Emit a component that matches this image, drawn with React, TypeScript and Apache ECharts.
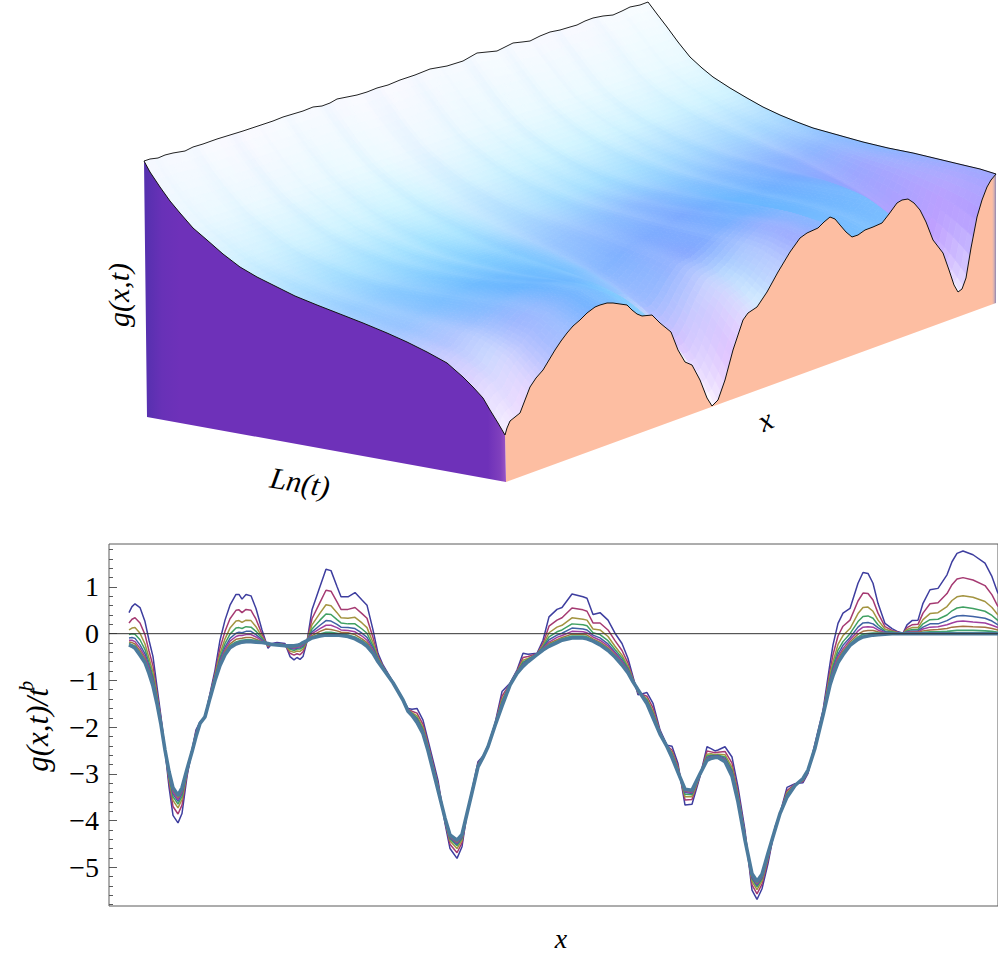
import React, { useEffect, useRef } from "react";
import * as echarts from "echarts";

// ---- lower panel: g(x,t)/t^b against x ----
const xs = [
20,23,26,31,36,40,44,48,52,56,
60,64,69,73,78,83,87,91,96,101,
106,111,116,121,127,130,133,137,142,147,
153,159,163,168,176,181,185,188,191,194,
198,203,211,217,222,228,232,239,246,253,
258,264,269,274,284,294,299,303,308,314,
319,329,336,341,348,353,358,363,369,374,
379,386,393,401,408,414,419,428,434,440,
448,453,463,474,478,484,491,499,506,513,
519,524,529,538,544,551,558,563,569,576,
583,591,598,602,606,609,616,623,629,636,
643,648,653,659,666,671,678,686,694,699,
706,714,721,724,729,734,741,749,754,759,
764,769,776,783,789,794,798,803,809,814,
821,829,838,843,848,854,864,876,883,889];
const curve0 = [
.45,.58,.64,.56,.26,-.14,-.49,-1.14,-1.78,-2.49,
-3.28,-3.89,-4.05,-3.85,-3.06,-2.49,-2.06,-1.89,-1.78,-1.28,
-.78,-.14,.29,.61,.84,.84,.74,.84,.81,.54,
.08,-.31,-.21,-.19,-.21,-.49,-.56,-.51,-.55,-.49,
-.17,.51,1.01,1.38,1.35,1.01,.79,.79,.88,.72,
.61,.08,-.42,-.67,-1.03,-1.40,-1.6,-1.62,-1.6,-1.85,
-2.28,-3.14,-4.06,-4.6,-4.81,-4.56,-3.85,-3.35,-2.74,-2.62,
-2.40,-1.92,-1.24,-1.06,-.78,-.42,-.44,-.42,-.14,.36,
.52,.56,.85,.79,.76,.41,.45,.29,.01,-.21,
-.53,-.92,-1.31,-1.26,-1.49,-2.06,-2.39,-2.41,-2.78,-3.67,
-3.65,-3.06,-2.42,-2.46,-2.51,-2.49,-2.42,-2.64,-3.28,-4.21,
-5.49,-5.69,-5.46,-4.92,-4.14,-3.85,-3.29,-3.21,-3.19,-2.99,
-2.35,-1.64,-.64,-.24,.22,.44,.54,1.08,1.31,1.29,
1.08,.65,.22,.11,.04,.01,.19,.28,.29,.65,
.94,.97,1.26,1.54,1.72,1.77,1.69,1.51,1.22,.86];
const curve1 = [
.23,.31,.34,.23,-.02,-.37,-.69,-1.26,-1.83,-2.49,
-3.17,-3.70,-3.86,-3.67,-3.01,-2.50,-2.10,-1.90,-1.78,-1.31,
-.85,-.31,.05,.32,.50,.51,.45,.52,.50,.31,
-.01,-.28,-.22,-.21,-.23,-.42,-.46,-.43,-.45,-.39,
-.16,.32,.67,.93,.91,.68,.52,.52,.56,.43,
.33,-.08,-.48,-.70,-1.04,-1.41,-1.62,-1.66,-1.70,-1.94,
-2.35,-3.21,-4.02,-4.51,-4.69,-4.48,-3.85,-3.37,-2.78,-2.63,
-2.41,-1.94,-1.34,-1.07,-.80,-.51,-.49,-.43,-.21,.16,
.29,.34,.55,.51,.48,.23,.23,.08,-.15,-.36,
-.63,-.96,-1.27,-1.34,-1.59,-2.09,-2.40,-2.49,-2.84,-3.56,
-3.55,-3.04,-2.51,-2.53,-2.55,-2.54,-2.52,-2.77,-3.38,-4.28,
-5.38,-5.57,-5.36,-4.85,-4.16,-3.85,-3.36,-3.22,-3.16,-2.97,
-2.38,-1.68,-.79,-.45,-.05,.16,.29,.70,.87,.86,
.72,.44,.15,.07,.03,.01,.13,.19,.20,.44,
.64,.66,.86,1.05,1.17,1.20,1.15,1.03,.83,.58];
const curve2 = [
.08,.12,.13,.01,-.22,-.52,-.83,-1.33,-1.87,-2.49,
-3.10,-3.57,-3.73,-3.55,-2.97,-2.51,-2.14,-1.91,-1.78,-1.33,
-.90,-.43,-.11,.12,.27,.28,.24,.29,.28,.15,
-.07,-.26,-.22,-.22,-.24,-.37,-.40,-.37,-.38,-.33,
-.16,.19,.44,.62,.60,.45,.34,.33,.35,.23,
.13,-.19,-.52,-.71,-1.04,-1.41,-1.63,-1.69,-1.76,-2.01,
-2.40,-3.25,-4.0,-4.44,-4.60,-4.42,-3.85,-3.38,-2.80,-2.64,
-2.41,-1.95,-1.41,-1.08,-.82,-.57,-.53,-.44,-.25,.02,
.14,.18,.34,.31,.29,.10,.08,-.06,-.27,-.46,
-.70,-.98,-1.25,-1.39,-1.66,-2.11,-2.41,-2.54,-2.88,-3.49,
-3.49,-3.03,-2.58,-2.57,-2.59,-2.58,-2.59,-2.86,-3.45,-4.32,
-5.30,-5.48,-5.29,-4.80,-4.17,-3.85,-3.40,-3.23,-3.14,-2.95,
-2.40,-1.70,-.89,-.60,-.23,-.04,.11,.43,.56,.57,
.48,.29,.10,.05,.02,0,.09,.13,.13,.30,
.43,.45,.58,.71,.79,.81,.78,.69,.56,.40];
const curve3 = [
-.02,0,-.01,-.13,-.34,-.62,-.92,-1.38,-1.90,-2.49,
-3.06,-3.49,-3.65,-3.48,-2.95,-2.52,-2.16,-1.91,-1.78,-1.35,
-.93,-.51,-.21,-.01,.12,.13,.11,.15,.14,.05,
-.10,-.24,-.22,-.22,-.24,-.33,-.36,-.33,-.33,-.29,
-.16,.10,.29,.42,.41,.30,.23,.21,.21,.10,
.01,-.26,-.54,-.72,-1.04,-1.41,-1.64,-1.71,-1.80,-2.05,
-2.43,-3.28,-3.99,-4.40,-4.54,-4.38,-3.85,-3.38,-2.81,-2.64,
-2.41,-1.95,-1.45,-1.09,-.83,-.61,-.55,-.44,-.28,-.07,
.04,.08,.21,.19,.17,.02,-.02,-.15,-.34,-.52,
-.74,-.99,-1.24,-1.42,-1.70,-2.12,-2.41,-2.57,-2.91,-3.44,
-3.45,-3.02,-2.62,-2.60,-2.61,-2.60,-2.64,-2.92,-3.50,-4.35,
-5.25,-5.42,-5.25,-4.77,-4.18,-3.85,-3.43,-3.24,-3.13,-2.94,
-2.42,-1.71,-.95,-.69,-.35,-.17,0,.26,.37,.38,
.33,.19,.06,.04,.01,0,.06,.09,.09,.21,
.30,.31,.40,.49,.55,.57,.54,.48,.39,.28];
const curve4 = [
-.09,-.08,-.10,-.24,-.43,-.69,-.98,-1.42,-1.91,-2.49,
-3.02,-3.43,-3.59,-3.42,-2.94,-2.52,-2.17,-1.91,-1.78,-1.36,
-.95,-.56,-.29,-.10,.01,.03,.02,.05,.05,-.02,
-.13,-.23,-.23,-.23,-.25,-.31,-.33,-.31,-.30,-.26,
-.15,.04,.18,.28,.27,.20,.14,.13,.11,.01,
-.08,-.31,-.56,-.73,-1.05,-1.42,-1.65,-1.72,-1.83,-2.08,
-2.45,-3.30,-3.97,-4.37,-4.51,-4.36,-3.85,-3.39,-2.83,-2.64,
-2.42,-1.96,-1.48,-1.09,-.83,-.64,-.56,-.44,-.30,-.13,
-.03,.01,.12,.10,.08,-.03,-.09,-.22,-.39,-.57,
-.77,-1.01,-1.22,-1.45,-1.73,-2.13,-2.41,-2.60,-2.93,-3.40,
-3.42,-3.01,-2.65,-2.62,-2.62,-2.61,-2.67,-2.96,-3.53,-4.37,
-5.22,-5.39,-5.22,-4.75,-4.19,-3.85,-3.45,-3.24,-3.12,-2.94,
-2.43,-1.73,-1.0,-.75,-.44,-.25,-.08,.14,.23,.24,
.21,.13,.04,.02,.01,0,.04,.06,.06,.14,
.21,.21,.28,.34,.38,.39,.37,.33,.27,.19];
const curve5 = [
-.14,-.14,-.17,-.31,-.49,-.74,-1.03,-1.45,-1.92,-2.49,
-3.0,-3.39,-3.55,-3.38,-2.92,-2.52,-2.18,-1.92,-1.78,-1.37,
-.97,-.60,-.34,-.16,-.06,-.04,-.04,-.02,-.02,-.07,
-.15,-.23,-.23,-.23,-.25,-.29,-.31,-.29,-.28,-.24,
-.15,0,.11,.18,.18,.13,.08,.07,.04,-.05,
-.14,-.35,-.57,-.74,-1.05,-1.42,-1.65,-1.73,-1.86,-2.10,
-2.47,-3.32,-3.97,-4.35,-4.48,-4.34,-3.85,-3.39,-2.83,-2.65,
-2.42,-1.96,-1.50,-1.09,-.84,-.66,-.58,-.45,-.32,-.18,
-.08,-.04,.05,.04,.02,-.07,-.14,-.26,-.42,-.60,
-.79,-1.01,-1.22,-1.46,-1.75,-2.14,-2.42,-2.61,-2.94,-3.38,
-3.40,-3.01,-2.67,-2.64,-2.63,-2.63,-2.69,-2.99,-3.55,-4.39,
-5.19,-5.36,-5.20,-4.73,-4.19,-3.85,-3.47,-3.24,-3.11,-2.93,
-2.44,-1.73,-1.03,-.80,-.49,-.32,-.13,.06,.14,.15,
.14,.08,.02,.02,.01,0,.03,.04,.04,.10,
.14,.15,.19,.23,.26,.27,.25,.23,.18,.13];
const curve6 = [
-.18,-.19,-.22,-.37,-.54,-.79,-1.06,-1.47,-1.93,-2.49,
-2.98,-3.35,-3.51,-3.35,-2.91,-2.53,-2.19,-1.92,-1.78,-1.37,
-.98,-.63,-.38,-.22,-.12,-.11,-.10,-.08,-.08,-.12,
-.17,-.22,-.23,-.24,-.26,-.28,-.29,-.27,-.26,-.22,
-.15,-.04,.05,.10,.09,.06,.03,.02,-.02,-.11,
-.19,-.38,-.58,-.74,-1.05,-1.42,-1.65,-1.74,-1.87,-2.11,
-2.48,-3.33,-3.96,-4.34,-4.46,-4.32,-3.85,-3.40,-2.84,-2.65,
-2.42,-1.97,-1.52,-1.10,-.84,-.67,-.59,-.45,-.33,-.21,
-.13,-.08,-.01,-.01,-.03,-.11,-.18,-.30,-.45,-.63,
-.81,-1.02,-1.21,-1.48,-1.77,-2.14,-2.42,-2.63,-2.95,-3.36,
-3.38,-3.01,-2.68,-2.65,-2.64,-2.64,-2.71,-3.01,-3.57,-4.40,
-5.17,-5.34,-5.18,-4.72,-4.19,-3.85,-3.48,-3.25,-3.11,-2.93,
-2.44,-1.74,-1.06,-.84,-.54,-.37,-.18,-.01,.05,.07,
.07,.04,.01,.01,0,0,.02,.03,.03,.06,
.08,.09,.11,.14,.15,.16,.15,.14,.11,.08];
const curve7 = [
-.21,-.24,-.27,-.42,-.58,-.82,-1.09,-1.49,-1.94,-2.49,
-2.96,-3.32,-3.48,-3.32,-2.91,-2.53,-2.19,-1.92,-1.78,-1.38,
-.99,-.66,-.42,-.26,-.18,-.16,-.14,-.13,-.13,-.15,
-.18,-.21,-.23,-.24,-.26,-.27,-.27,-.26,-.24,-.20,
-.15,-.07,-.01,.03,.03,.01,-.01,-.03,-.07,-.15,
-.23,-.40,-.59,-.75,-1.05,-1.42,-1.66,-1.74,-1.89,-2.13,
-2.49,-3.34,-3.95,-4.32,-4.44,-4.31,-3.85,-3.40,-2.85,-2.65,
-2.42,-1.97,-1.54,-1.10,-.85,-.69,-.59,-.45,-.34,-.24,
-.16,-.11,-.05,-.05,-.07,-.14,-.21,-.33,-.48,-.65,
-.83,-1.03,-1.20,-1.49,-1.79,-2.15,-2.42,-2.64,-2.96,-3.34,
-3.36,-3.0,-2.70,-2.66,-2.64,-2.64,-2.73,-3.03,-3.59,-4.41,
-5.15,-5.32,-5.16,-4.71,-4.20,-3.85,-3.49,-3.25,-3.10,-2.92,
-2.45,-1.75,-1.08,-.87,-.59,-.41,-.22,-.07,-.01,0,
.01,.01,0,0,0,0,.01,.01,.01,.03,
.04,.04,.05,.06,.07,.07,.07,.06,.05,.03];
const curve8 = [
-.24,-.27,-.31,-.46,-.62,-.85,-1.12,-1.5,-1.95,-2.49,
-2.95,-3.3,-3.46,-3.3,-2.9,-2.53,-2.2,-1.92,-1.78,-1.38,
-1.0,-.68,-.45,-.3,-.22,-.2,-.18,-.17,-.17,-.18,
-.19,-.21,-.23,-.24,-.26,-.26,-.26,-.25,-.23,-.19,
-.15,-.09,-.05,-.03,-.03,-.03,-.04,-.06,-.11,-.19,
-.27,-.42,-.6,-.75,-1.05,-1.42,-1.66,-1.75,-1.9,-2.14,
-2.5,-3.35,-3.95,-4.31,-4.42,-4.3,-3.85,-3.4,-2.85,-2.65,
-2.42,-1.97,-1.55,-1.1,-.85,-.7,-.6,-.45,-.35,-.27,
-.19,-.14,-.09,-.09,-.11,-.16,-.24,-.36,-.5,-.67,
-.84,-1.03,-1.2,-1.5,-1.8,-2.15,-2.42,-2.65,-2.97,-3.33,
-3.35,-3.0,-2.71,-2.67,-2.65,-2.65,-2.74,-3.05,-3.6,-4.42,
-5.14,-5.3,-5.15,-4.7,-4.2,-3.85,-3.5,-3.25,-3.1,-2.92,
-2.45,-1.75,-1.1,-.9,-.62,-.45,-.25,-.12,-.07,-.05,
-.03,-.02,-.01,0,0,0,0,0,0,0,
0,0,0,0,0,0,0,0,0,0];
const curves = [curve0, curve1, curve2, curve3, curve4, curve5, curve6, curve7, curve8];
const curveColors = ["#3e3e9f", "#a53a72", "#a39440", "#3fa062", "#3f62a4", "#a03fa0", "#a47242", "#42a272", "#4c7b9d"];
const curveWidths = [1.5, 1.5, 1.5, 1.5, 1.5, 1.5, 1.5, 1.7, 3.6];
const majorTicks = [-5, -4, -3, -2, -1, 0, 1];
const minorTicks = [-5.8,-5.6,-5.4,-5.2,-4.8,-4.6,-4.4,-4.2,-3.8,-3.6,-3.4,-3.2,-2.8,-2.6,-2.4,-2.2,-1.8,-1.6,-1.4,-1.2,-0.8,-0.6,-0.4,-0.2,0.2,0.4,0.6,0.8,1.2,1.4,1.6,1.8];

// ---- upper panel: edges of the projected surface ----
const frontEdge = [[505,435],[507,428],[510,421],[515,417],[520,413],[525,400],[530,387],[536,378],[543,370],[549,360],[555,350],[561,341],[567,333],[573,326],[580,320],[587,313],[595,307],[600,305],[607,303],[613,303],[620,304],[627,305],[632,310],[637,314],[642,316],[652,315],[660,323],[671,332],[678,350],[685,362],[692,365],[700,380],[707,398],[712,406],[718,400],[725,380],[733,350],[743,320],[748,313],[757,307],[767,292],[778,272],[790,252],[800,238],[807,233],[818,228],[824,222],[830,217],[835,219],[840,225],[846,232],[852,237],[858,235],[865,230],[873,227],[882,223],[889,214],[897,203],[902,200],[908,199],[914,203],[920,210],[926,222],[933,240],[943,253],[949,270],[954,285],[958,292],[962,289],[966,278],[971,248],[977,217],[982,200],[987,187],[991,180],[996,174]];
const backEdge = [[144,161],[150,159],[158,158],[165,155],[173,153],[185,151],[193,147],[203,144],[217,139],[230,135],[243,131],[258,126],[273,121],[283,117],[293,114],[303,111],[313,107],[322,106],[330,103],[337,99],[347,97],[357,95],[367,92],[377,88],[388,85],[400,80],[415,75],[430,69],[447,66],[463,61],[470,57],[477,53],[487,52],[497,51],[505,47],[513,43],[522,42],[530,41],[540,36],[550,32],[560,30],[570,27],[577,25],[585,21],[593,18],[603,16],[613,15],[622,11],[630,7],[640,5],[648,2]];
const leftEdge = [[144,161],[150,172],[160,187],[170,201],[180,213],[193,228],[207,240],[223,254],[240,267],[257,277],[273,285],[295,296],[317,305],[340,314],[363,323],[387,333],[407,342],[427,352],[447,363],[463,377],[473,387],[483,398],[490,410],[498,423],[505,435]];
const rightEdge = [[648,2],[657,14],[667,27],[678,42],[690,57],[702,68],[713,77],[730,88],[747,98],[763,107],[780,115],[797,122],[813,128],[838,135],[863,142],[888,148],[913,153],[938,159],[963,165],[980,169],[996,174]];
const wallBase = [[506,482],[147,417]];
const frontBase = [[996,303],[506,482]];

const colorU = [0,.04,.1,.18,.28,.34,.39,.42,.46,.52,.6,.7,.8,.87,.92,.96,1];
const colorV = [0,.12,.25,.4,.55,.68,.8,.9,1];
const colorRows = [
["#f6f8ff","#f6f9ff","#f8faff","#fbf9ff","#f8fbff","#f7faff","#f8f9ff","#fafaff","#fbfaff","#f8f9ff","#f6faff","#f8fbff","#f8f9ff","#f9f9ff","#f8fbff","#f8fcff","#f8fcff"],
["#eaf7ff","#eaf8ff","#ebf9ff","#ecf9ff","#eaf9ff","#ebfaff","#ecfaff","#eef9ff","#eef8ff","#ecf9ff","#eaf9ff","#ebfaff","#ebfaff","#ebfaff","#eafaff","#eafaff","#eafaff"],
["#d2f1ff","#d0f1ff","#d0f2ff","#d0f3ff","#cef3ff","#cef4ff","#d0f3ff","#d4f2ff","#d4f2ff","#d0f3ff","#cef3ff","#d0f4ff","#d0f3ff","#d0f3ff","#d0f3ff","#d0f3ff","#d0f3ff"],
["#b0e0ff","#aee0ff","#aae1ff","#a8e2ff","#a6e3ff","#a8e4ff","#b0e2ff","#b6e0ff","#b4dfff","#ace0ff","#a8e0ff","#a6deff","#a8daff","#a8d8ff","#a8d8ff","#a8d8ff","#a8d8ff"],
["#9ccdff","#96ccff","#8ccbff","#88ceff","#84ceff","#86cdff","#90caff","#98c6ff","#98c2ff","#90c0ff","#8cbaff","#84c2ff","#88bcff","#8cb6ff","#90b2ff","#90b8ff","#8ebeff"],
["#a0c6ff","#96c4ff","#80c0ff","#70bcff","#72beff","#78c2ff","#82c2ff","#8cbaff","#84b2ff","#80acff","#7caaff","#6cb8ff","#74aeff","#8ca8ff","#98a4ff","#a0a8ff","#8cb8ff"],
["#c0c8ff","#b0c4ff","#8cbcff","#6cb6ff","#70b8ff","#88c4ff","#9cc4ff","#a0bcff","#98b8ff","#88a8ff","#78b0ff","#6cb8ff","#74b4ff","#94a8ff","#ac9cff","#aca4ff","#98b0ff"],
["#dcd0ff","#ccd8ff","#a4b8ff","#76b6ff","#80c8ff","#b0dcf8","#d8d0ff","#d8c0ff","#d0ccff","#b8d8ff","#98b0ff","#78bcff","#74b8ff","#a0a8ff","#c8a0ff","#b8a0ff","#a0acff"],
["#f4eeff","#ecd8ff","#b0c0ff","#78b4ff","#84ccff","#e8f4e8","#fff8ff","#ffffff","#e8c4ff","#d4ecff","#a0acff","#78c0ff","#7cbcff","#b0a4ff","#ffffff","#b49cff","#a0a8ff"],
];
const streaks = [.1,-.05,.14,0,-.09,.12,.04,-.12,.1,-.04,.16,-.08,.02,.12,-.12,.06,.16,-.06,-.12,.1,.03,-.1,.14,-.03,.08,-.12,.12,.02,-.1,.15,-.05,.08,-.1,.12,0,-.08,.14,-.04,.08,-.06];

const PEACH = "#fdbea2";
const NU = 150;
const NV = 64;

const hexRgb = (h: string) => [parseInt(h.slice(1, 3), 16), parseInt(h.slice(3, 5), 16), parseInt(h.slice(5, 7), 16)];
const rows = colorRows.map((r) => r.map(hexRgb));

function along(edge: number[][], t: number) {
  const x0 = edge[0][0];
  const x = x0 + (edge[edge.length - 1][0] - x0) * t;
  let i = 0;
  while (i < edge.length - 2 && edge[i + 1][0] < x) i++;
  const a = edge[i], b = edge[i + 1];
  const f = (x - a[0]) / (b[0] - a[0]);
  return [a[0] + (b[0] - a[0]) * f, a[1] + (b[1] - a[1]) * f];
}

function patch(u: number, v: number) {
  const w = v * v * v * v;
  const w0 = Math.min(1, v * 6);
  const F = along(frontEdge, u), B = along(backEdge, u), L = along(leftEdge, v), R = along(rightEdge, v);
  const P00 = backEdge[0], P10 = backEdge[backEdge.length - 1], P01 = frontEdge[0], P11 = frontEdge[frontEdge.length - 1];
  return [0, 1].map((k) => {
    const straightBack = P00[k] + (P10[k] - P00[k]) * u;
    const back = B[k] * (1 - w0) + straightBack * w0;
    return (1 - w) * back + w * F[k] +
      (1 - u) * (L[k] - ((1 - w) * P00[k] + w * P01[k])) +
      u * (R[k] - ((1 - w) * P10[k] + w * P11[k]));
  });
}

function bracket(list: number[], t: number) {
  let i = 0;
  while (i < list.length - 2 && list[i + 1] < t) i++;
  return [i, (t - list[i]) / (list[i + 1] - list[i])];
}

function shade(u: number, v: number) {
  const [ci, cf] = bracket(colorU, u);
  const [ri, rf] = bracket(colorV, v);
  const c = [0, 1, 2].map((k) => {
    const top = rows[ri][ci][k] * (1 - cf) + rows[ri][ci + 1][k] * cf;
    const bot = rows[ri + 1][ci][k] * (1 - cf) + rows[ri + 1][ci + 1][k] * cf;
    return top * (1 - rf) + bot * rf;
  });
  const sp = u * (streaks.length - 1);
  const si = Math.min(streaks.length - 2, Math.floor(sp));
  const s = (streaks[si] * (si + 1 - sp) + streaks[si + 1] * (sp - si)) * (0.35 + 0.65 * Math.min(1, v * 2.2)) * (1 - 0.6 * v);
  const target = s > 0 ? [255, 255, 255] : [90, 176, 255];
  const a = Math.abs(s);
  const out = c.map((val, k) => Math.round(val * (1 - a) + target[k] * a));
  return `rgb(${out[0]},${out[1]},${out[2]})`;
}

const meshCells: number[][] = [];
for (let i = 0; i < NU; i++) for (let j = 0; j < NV; j++) meshCells.push([i, j]);

const polygonSeries = (points: number[][], fill: any) => ({
  type: "custom",
  xAxisIndex: 1,
  yAxisIndex: 2,
  clip: false,
  silent: true,
  data: points,
  renderItem: (params: any, api: any) => {
    if (params.dataIndex !== 0) return null;
    return {
      type: "polygon",
      shape: { points: points.map((p) => api.coord(p)) },
      style: { fill },
    };
  },
});

const edgeSeries = (points: number[][], color: string, width: number) => ({
  type: "line",
  xAxisIndex: 1,
  yAxisIndex: 2,
  data: points,
  showSymbol: false,
  silent: true,
  clip: false,
  lineStyle: { color, width },
});

const serif = '"Liberation Serif", "Times New Roman", serif';
const italicLabel = (text: string, x: number, y: number, rotation: number, size: number) => ({
  type: "text",
  x,
  y,
  rotation,
  silent: true,
  style: { text, fill: "#000", font: `italic ${size}px ${serif}`, textAlign: "center", textVerticalAlign: "middle" },
});

export default function App() {
  const ref = useRef<HTMLDivElement>(null);
  useEffect(() => {
    const chart = echarts.init(ref.current!, null, { renderer: "svg" });
    chart.setOption({
      animation: false,
      backgroundColor: "#fff",
      textStyle: { fontFamily: serif },
      grid: [
        { left: 109, top: 544, width: 889, height: 362, show: true, borderColor: "#5a5a5a", borderWidth: 1, backgroundColor: "transparent" },
        { left: 0, top: 0, width: 998, height: 500, show: false },
      ],
      xAxis: [
        { type: "value", gridIndex: 0, min: 0, max: 889, axisLine: { show: false }, axisTick: { show: false }, axisLabel: { show: false }, splitLine: { show: false } },
        { type: "value", gridIndex: 1, min: 0, max: 998, show: false },
      ],
      yAxis: [
        {
          type: "value", gridIndex: 0, min: -5.83, max: 1.92, position: "left",
          axisLine: { show: false },
          axisTick: { show: true, inside: true, length: 8, lineStyle: { color: "#5a5a5a", width: 1 }, customValues: majorTicks },
          axisLabel: {
            show: true, customValues: majorTicks, margin: 10, fontSize: 28, fontFamily: serif, color: "#000",
            formatter: (v: number) => String(v).replace("-", "\u2212"),
          },
          splitLine: { show: false },
        },
        {
          type: "value", gridIndex: 0, min: -5.83, max: 1.92, position: "left",
          axisLine: { show: false },
          axisTick: { show: true, inside: true, length: 4, lineStyle: { color: "#5a5a5a", width: 1 }, customValues: minorTicks },
          axisLabel: { show: false },
          splitLine: { show: false },
        },
        { type: "value", gridIndex: 1, min: 0, max: 500, inverse: true, show: false },
      ],
      graphic: [
        italicLabel("g(x,t)", 118, 295, Math.PI / 2, 30),
        italicLabel("Ln(t)", 300, 482, -0.17, 30),
        italicLabel("x", 765, 420, 0.45, 30),
        italicLabel("g(x,t)/t", 37, 730, Math.PI / 2, 31),
        italicLabel("b", 26, 686, Math.PI / 2, 21),
        italicLabel("x", 561, 938, 0, 28),
      ],
      series: [
        {
          type: "custom",
          xAxisIndex: 1,
          yAxisIndex: 2,
          clip: false,
          silent: true,
          data: meshCells,
          renderItem: (_: any, api: any) => {
            const i = api.value(0), j = api.value(1);
            const u0 = i / NU, u1 = (i + 1) / NU, v0 = j / NV, v1 = (j + 1) / NV;
            const color = shade((u0 + u1) / 2, (v0 + v1) / 2);
            return {
              type: "polygon",
              shape: { points: [patch(u0, v0), patch(u1, v0), patch(u1, v1), patch(u0, v1)].map((p) => api.coord(p)) },
              style: { fill: color, stroke: color, lineWidth: 0.8 },
            };
          },
        },
        polygonSeries([...frontEdge, ...frontBase], new echarts.graphic.LinearGradient(0, 0, 1, 0, [
          { offset: 0, color: PEACH }, { offset: 0.992, color: PEACH }, { offset: 0.996, color: "#d8b0b0" }, { offset: 1, color: "#8f86b0" },
        ])),
        polygonSeries([...leftEdge, ...wallBase], new echarts.graphic.LinearGradient(0, 0, 1, 0, [
          { offset: 0, color: "#5430ae" }, { offset: 0.05, color: "#6831b7" }, { offset: 0.1, color: "#6e31b9" },
          { offset: 0.95, color: "#6e31b9" }, { offset: 0.985, color: "#8040bd" }, { offset: 1, color: "#9a55c4" },
        ])),
        edgeSeries(backEdge, "#222", 1),
        edgeSeries(leftEdge, "#111", 1),
        edgeSeries(rightEdge, "#111", 1),
        edgeSeries(frontEdge, "#111", 1),
        ...curves.map((values, k) => ({
          type: "line",
          xAxisIndex: 0,
          yAxisIndex: 0,
          data: values.map((v, n) => [xs[n], v]),
          showSymbol: false,
          silent: true,
          lineStyle: { color: curveColors[k], width: curveWidths[k] },
        })),
        {
          type: "line",
          xAxisIndex: 0,
          yAxisIndex: 0,
          data: [[0, 0], [889, 0]],
          showSymbol: false,
          silent: true,
          lineStyle: { color: "#333", width: 1 },
        },
      ],
    });
    return () => chart.dispose();
  }, []);
  return <div ref={ref} style={{ position: "absolute", left: 0, top: 0, width: 998, height: 955 }} />;
}
